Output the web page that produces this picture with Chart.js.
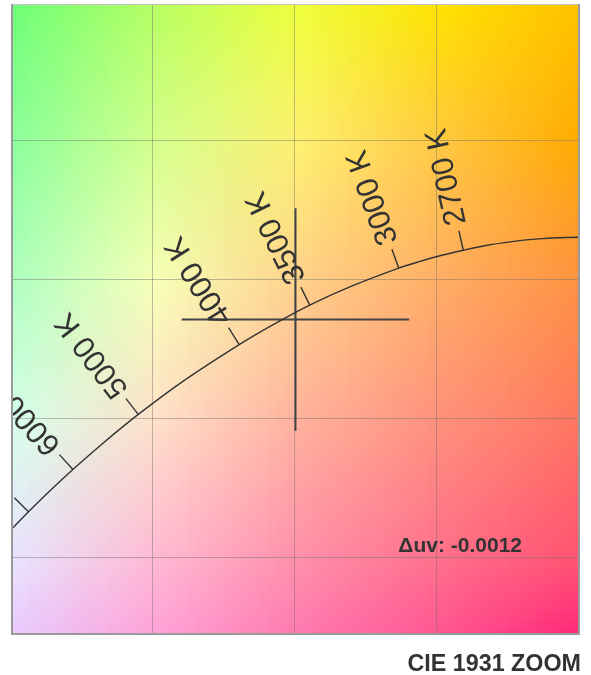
<!DOCTYPE html>
<html>
<head>
<meta charset="utf-8">
<script src="https://cdn.jsdelivr.net/npm/chart.js@4.4.0/dist/chart.umd.min.js"></script>
<style>
  html, body { margin: 0; padding: 0; background: #fff; }
  #wrap { width: 591px; height: 675px; }
</style>
</head>
<body>
<div id="wrap"><canvas id="cie" width="591" height="675"></canvas></div>
<script>
// Planckian locus, CIE 1931 2° chromaticity, sampled by colour temperature (K)
const locusTemps = [2100, 2200, 2300, 2400, 2500, 2600, 2700, 2800, 2900, 3000, 3250, 3500, 3750, 4000, 4500, 5000, 5500, 6000, 6500, 7000, 7500, 8000];
const locusX = [0.5160, 0.5054, 0.4953, 0.4857, 0.4765, 0.4677, 0.4593, 0.4514, 0.4438, 0.4366, 0.4200, 0.4053, 0.3923, 0.3805, 0.3607, 0.3450, 0.3323, 0.3220, 0.3135, 0.3064, 0.3004, 0.2952];
const locusY = [0.4146, 0.4152, 0.4152, 0.4147, 0.4137, 0.4124, 0.4106, 0.4087, 0.4065, 0.4042, 0.3977, 0.3909, 0.3838, 0.3767, 0.3635, 0.3516, 0.3410, 0.3318, 0.3237, 0.3166, 0.3103, 0.3048];

// Temperatures marked on the locus, with their labels
const markedTemps = [2700, 3000, 3500, 4000, 5000, 6000, 7000];
const markedLabels = ['2700 K', '3000 K', '3500 K', '4000 K', '5000 K', '6000 K', '7000 K'];

// Measured chromaticity and its distance from the locus
const measuredX = [0.4003];
const measuredY = [0.3857];
const deltaUvText = 'Δuv: -0.0012';

// Grid positions and view window
const gridX = [0.35, 0.40, 0.45];
const gridY = [0.30, 0.35, 0.40, 0.45];
const viewX = [0.3006, 0.5000];
const viewY = [0.2727, 0.4991];

// chromaticities at which the background colour is evaluated
const shadeX = [0.30, 0.35, 0.40, 0.45, 0.50];
const shadeY = [0.50, 0.45, 0.40, 0.35, 0.30, 0.25];

const titleText = 'CIE 1931 ZOOM';

// half length of the crosshair arms, in chromaticity units
const crossHalf = 0.04;

const locusPoints = locusTemps.map((t, i) => ({ x: locusX[i], y: locusY[i] }));
const crossH = [{ x: measuredX[0] - crossHalf, y: measuredY[0] }, { x: measuredX[0] + crossHalf, y: measuredY[0] }];
const crossV = [{ x: measuredX[0], y: measuredY[0] - crossHalf }, { x: measuredX[0], y: measuredY[0] + crossHalf }];

// xy chromaticity -> display sRGB (brightest colour of that chromaticity)
function xyToRgb(cx, cy) {
  const X = cx / cy, Y = 1, Z = (1 - cx - cy) / cy;
  let r = 3.2406 * X - 1.5372 * Y - 0.4986 * Z;
  let g = -0.9689 * X + 1.8758 * Y + 0.0415 * Z;
  let b = 0.0557 * X - 0.2040 * Y + 1.0570 * Z;
  r = Math.max(r, 0); g = Math.max(g, 0); b = Math.max(b, 0);
  const m = Math.max(r, g, b) || 1;
  const enc = v => {
    v = v / m;
    v = v <= 0.0031308 ? 12.92 * v : 1.055 * Math.pow(v, 1 / 2.4) - 0.055;
    return Math.round(Math.min(1, Math.max(0, v)) * 255);
  };
  return [enc(r), enc(g), enc(b)];
}

// Colour field evaluated on the shade lattice and blended smoothly across the plot
const chromaticityBackground = {
  id: 'chromaticityBackground',
  beforeDraw(chart) {
    const { ctx, chartArea: a, scales } = chart;
    const sx = scales.x, sy = scales.y;
    const nx = shadeX.length, ny = shadeY.length;
    const tile = document.createElement('canvas');
    tile.width = nx; tile.height = ny;
    const tctx = tile.getContext('2d');
    const img = tctx.createImageData(nx, ny);
    shadeY.forEach((cy, j) => shadeX.forEach((cx, i) => {
      const c = xyToRgb(cx, cy);
      const k = (j * nx + i) * 4;
      img.data[k] = c[0]; img.data[k + 1] = c[1]; img.data[k + 2] = c[2]; img.data[k + 3] = 255;
    }));
    tctx.putImageData(img, 0, 0);
    const x0 = sx.getPixelForValue(shadeX[0]), x1 = sx.getPixelForValue(shadeX[nx - 1]);
    const y0 = sy.getPixelForValue(shadeY[0]), y1 = sy.getPixelForValue(shadeY[ny - 1]);
    const cw = (x1 - x0) / (nx - 1), ch = (y1 - y0) / (ny - 1);
    ctx.save();
    ctx.beginPath();
    ctx.rect(a.left, a.top, a.right - a.left, a.bottom - a.top);
    ctx.clip();
    ctx.imageSmoothingEnabled = true;
    ctx.imageSmoothingQuality = 'low';
    ctx.drawImage(tile, x0 - cw / 2, y0 - ch / 2, nx * cw, ny * ch);
    ctx.restore();
  }
};

const locusMarks = {
  id: 'locusMarks',
  afterDatasetsDraw(chart) {
    const { ctx, chartArea: a, scales } = chart;
    const sx = scales.x, sy = scales.y;
    const tickLen = 20, gap = 6;
    ctx.save();
    ctx.beginPath();
    ctx.rect(a.left, a.top, a.right - a.left, a.bottom - a.top);
    ctx.clip();
    ctx.strokeStyle = '#333';
    ctx.fillStyle = '#333';
    ctx.lineWidth = 1.4;
    ctx.font = '31px "Liberation Sans", Arial, sans-serif';
    ctx.textAlign = 'left';
    ctx.textBaseline = 'middle';
    markedTemps.forEach((t, k) => {
      const i = locusTemps.indexOf(t);
      const px = sx.getPixelForValue(locusX[i]);
      const py = sy.getPixelForValue(locusY[i]);
      const tx = sx.getPixelForValue(locusX[i + 1]) - sx.getPixelForValue(locusX[i - 1]);
      const ty = sy.getPixelForValue(locusY[i + 1]) - sy.getPixelForValue(locusY[i - 1]);
      let nx = ty, ny = -tx;
      if (ny > 0) { nx = -nx; ny = -ny; }
      const len = Math.hypot(nx, ny);
      nx /= len; ny /= len;
      ctx.beginPath();
      ctx.moveTo(px, py);
      ctx.lineTo(px + nx * tickLen, py + ny * tickLen);
      ctx.stroke();
      ctx.save();
      ctx.translate(px + nx * (tickLen + gap), py + ny * (tickLen + gap));
      ctx.rotate(Math.atan2(ny, nx));
      ctx.fillText(markedLabels[k], 0, 0);
      ctx.restore();
    });
    ctx.restore();

    // Δuv readout
    ctx.save();
    ctx.fillStyle = '#333';
    ctx.font = 'bold 21px "Liberation Sans", Arial, sans-serif';
    ctx.textAlign = 'right';
    ctx.textBaseline = 'alphabetic';
    ctx.fillText(deltaUvText, a.right - 57, a.bottom - 82);
    ctx.restore();

    // frame
    ctx.save();
    ctx.strokeStyle = '#c4c4c4';
    ctx.lineWidth = 1;
    ctx.beginPath();
    ctx.moveTo(a.left, a.top + 0.5); ctx.lineTo(a.right, a.top + 0.5);
    ctx.stroke();
    ctx.strokeStyle = '#9a9a9a';
    ctx.lineWidth = 2;
    ctx.beginPath();
    ctx.moveTo(a.left, a.top); ctx.lineTo(a.left, a.bottom);
    ctx.lineTo(a.right, a.bottom); ctx.lineTo(a.right, a.top);
    ctx.stroke();
    ctx.restore();
  }
};

const gridStyle = { color: 'rgba(110,110,110,0.45)', lineWidth: 1, drawTicks: false };

new Chart(document.getElementById('cie'), {
  type: 'scatter',
  data: {
    datasets: [
      { label: 'Planckian locus', data: locusPoints, showLine: true, pointRadius: 0,
        borderColor: '#333', borderWidth: 1.4, tension: 0.3, fill: false },
      { label: 'crosshair-h', data: crossH, showLine: true, pointRadius: 0,
        borderColor: '#444', borderWidth: 2, fill: false },
      { label: 'crosshair-v', data: crossV, showLine: true, pointRadius: 0,
        borderColor: '#444', borderWidth: 2, fill: false }
    ]
  },
  options: {
    responsive: false,
    animation: false,
    devicePixelRatio: 1,
    events: [],
    layout: { padding: { left: 12, top: 4, right: 10, bottom: 0 } },
    scales: {
      x: {
        type: 'linear', min: viewX[0], max: viewX[1],
        afterBuildTicks: s => { s.ticks = gridX.map(v => ({ value: v })); },
        ticks: { display: false },
        grid: gridStyle,
        border: { display: false }
      },
      y: {
        type: 'linear', min: viewY[0], max: viewY[1],
        afterBuildTicks: s => { s.ticks = gridY.map(v => ({ value: v })); },
        ticks: { display: false },
        grid: gridStyle,
        border: { display: false }
      },
      // narrow right-hand gutter between the plot frame and the caption's right edge
      yGutter: {
        type: 'linear', axis: 'y', position: 'right', min: viewY[0], max: viewY[1],
        ticks: { display: false },
        grid: { display: true, drawOnChartArea: false, drawTicks: true, tickLength: 2, color: 'rgba(0,0,0,0)' },
        border: { display: false }
      }
    },
    plugins: {
      legend: { display: false },
      tooltip: { enabled: false },
      title: {
        display: true, text: titleText, position: 'bottom', align: 'end',
        color: '#333',
        font: { family: '"Liberation Sans", Arial, sans-serif', size: 23.3, weight: 'bold', lineHeight: 0.86 },
        padding: { top: 21, bottom: 0 }
      }
    }
  },
  plugins: [chromaticityBackground, locusMarks]
});
</script>
</body>
</html>
